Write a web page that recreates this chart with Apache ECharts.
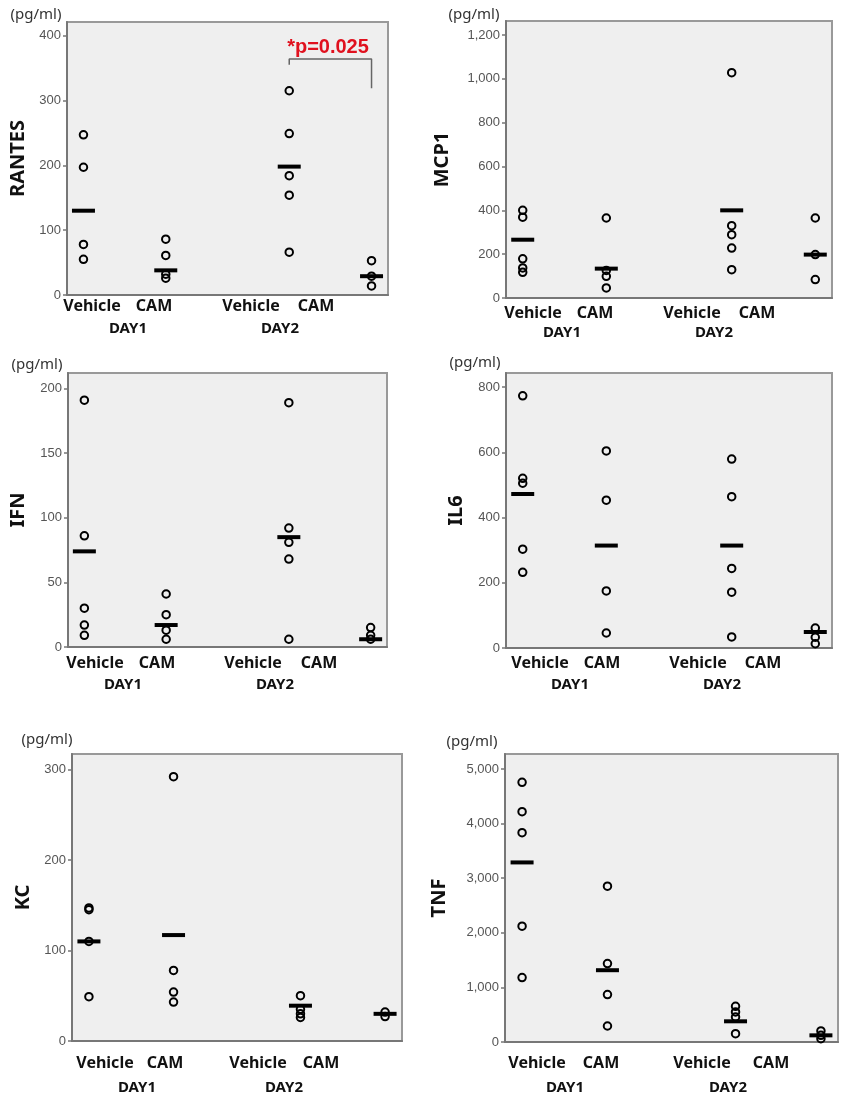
<!DOCTYPE html>
<html>
<head>
<meta charset="utf-8">
<script src="https://cdn.jsdelivr.net/npm/echarts@6/dist/echarts.min.js"></script>
<style>
html, body { margin: 0; padding: 0; background: #fff; }
#main { width: 850px; height: 1098px; }
</style>
</head>
<body>
<div id="main"></div>
<script>
var myChart = echarts.init(document.getElementById('main'));

// x position of each group: DAY1 Vehicle, DAY1 CAM, DAY2 Vehicle, DAY2 CAM
var groupX = [1, 2, 3.5, 4.5];
var groupLabels = ['Vehicle', 'CAM', 'Vehicle', 'CAM'];
var dayLabels = ['DAY1', 'DAY2'];
var unitLabel = '(pg/ml)';
var pValueText = '*p=0.025';

// values, one array per group
var rantesPts = [[247, 197, 78, 55], [86, 61, 32, 26], [315, 249, 184, 154, 66], [53, 29, 14]];
var rantesMed = [130, 38, 198, 29];
var rantesTicks = [0, 100, 200, 300, 400];

var mcp1Pts = [[400, 369, 179, 137, 117], [365, 126, 99, 46], [1028, 330, 289, 228, 129], [365, 198, 84]];
var mcp1Med = [266, 134, 400, 198];
var mcp1Ticks = [0, 200, 400, 600, 800, 1000, 1200];

var ifnPts = [[191, 86, 30, 17, 9], [41, 25, 13, 6], [189, 92, 81, 68, 6], [15, 9, 6]];
var ifnMed = [74, 17, 85, 6];
var ifnTicks = [0, 50, 100, 150, 200];

var il6Pts = [[773, 520, 505, 303, 232], [604, 453, 175, 46], [579, 464, 244, 171, 34], [61, 33, 13]];
var il6Med = [472, 314, 314, 49];
var il6Ticks = [0, 200, 400, 600, 800];

var kcPts = [[147, 145, 110, 49], [292, 78, 54, 43], [50, 35, 30, 26], [32, 27]];
var kcMed = [110, 117, 39, 30];
var kcTicks = [0, 100, 200, 300];

var tnfPts = [[4756, 4218, 3833, 2121, 1180], [2855, 1436, 868, 293], [654, 550, 458, 153], [202, 122, 61]];
var tnfMed = [3289, 1315, 379, 122];
var tnfTicks = [0, 1000, 2000, 3000, 4000, 5000];

// significance bracket between DAY2 groups in RANTES
var bracketX = [3.5, 3.5, 4.5, 4.5];
var bracketY = [355, 364, 364, 319];

// layout of each panel
var panels = [
    {name: 'RANTES', pts: rantesPts, med: rantesMed, ticks: rantesTicks, max: 421,
     grid: {left: 67, top: 22, width: 321, height: 273}, gap: 39,
     lab: [92, 154, 251, 316, 128, 280, 306, 329], unit: [36, 15]},
    {name: 'MCP1', pts: mcp1Pts, med: mcp1Med, ticks: mcp1Ticks, max: 1264,
     grid: {left: 506, top: 21, width: 326, height: 277}, gap: 54,
     lab: [533, 595, 692, 757, 562, 714, 313, 333], unit: [474, 15]},
    {name: 'IFN', pts: ifnPts, med: ifnMed, ticks: ifnTicks, max: 212,
     grid: {left: 68, top: 373, width: 319, height: 274}, gap: 40,
     lab: [95, 157, 253, 319, 123, 275, 663, 685], unit: [37, 365]},
    {name: 'IL6', pts: il6Pts, med: il6Med, ticks: il6Ticks, max: 843,
     grid: {left: 506, top: 373, width: 326, height: 275}, gap: 40,
     lab: [540, 602, 698, 763, 570, 722, 663, 685], unit: [475, 363]},
    {name: 'KC', pts: kcPts, med: kcMed, ticks: kcTicks, max: 317,
     grid: {left: 72, top: 754, width: 330, height: 287}, gap: 39,
     lab: [105, 165, 258, 321, 137, 284, 1063, 1088], unit: [47, 740]},
    {name: 'TNF', pts: tnfPts, med: tnfMed, ticks: tnfTicks, max: 5275,
     grid: {left: 505, top: 754, width: 333, height: 288}, gap: 56,
     lab: [537, 601, 702, 771, 565, 728, 1063, 1088], unit: [472, 742]}
];

var grids = [], xAxes = [], yAxes = [], series = [], graphics = [];
var boldFont = '"Noto Sans", "Liberation Sans", sans-serif';

panels.forEach(function (p, i) {
    grids.push({
        left: p.grid.left, top: p.grid.top, width: p.grid.width, height: p.grid.height,
        show: true, backgroundColor: '#efefef', borderColor: '#999', borderWidth: 2
    });
    xAxes.push({
        gridIndex: i, type: 'value', min: 0.8, max: 4.7,
        axisLine: {show: true, onZero: false, lineStyle: {color: '#777', width: 2}},
        axisTick: {show: false}, axisLabel: {show: false}, splitLine: {show: false}
    });
    yAxes.push({
        gridIndex: i, type: 'value', min: 0, max: p.max,
        name: p.name, nameLocation: 'middle', nameGap: p.gap, nameRotate: 90,
        nameTextStyle: {fontFamily: boldFont, fontWeight: 'bold', fontSize: 20, color: '#111'},
        axisLine: {show: true, lineStyle: {color: '#777', width: 2}},
        axisTick: {show: true, length: 4, customValues: p.ticks, lineStyle: {color: '#777', width: 1.5}},
        axisLabel: {
            customValues: p.ticks, margin: 6, color: '#555', fontSize: 13,
            fontFamily: '"Liberation Sans", Arial, sans-serif',
            formatter: function (v) { return v.toLocaleString('en-US'); }
        },
        splitLine: {show: false}
    });

    var pointData = [];
    p.pts.forEach(function (vals, g) {
        vals.forEach(function (v) { pointData.push([groupX[g], v]); });
    });
    series.push({
        type: 'scatter', xAxisIndex: i, yAxisIndex: i, data: pointData,
        symbol: 'circle', symbolSize: 7.5, z: 2,
        itemStyle: {color: 'rgba(0,0,0,0)', borderColor: '#000', borderWidth: 2, opacity: 1}
    });
    series.push({
        type: 'scatter', xAxisIndex: i, yAxisIndex: i,
        data: p.med.map(function (m, g) { return [groupX[g], m]; }),
        symbol: 'rect', symbolSize: [23, 4], z: 3,
        itemStyle: {color: '#000', opacity: 1}
    });

    // category texts under each panel
    var L = p.lab;
    groupLabels.forEach(function (t, g) {
        graphics.push({type: 'text', x: L[g], y: L[6], style: {
            text: t, x: 0, y: 0, align: 'center', verticalAlign: 'middle',
            font: 'bold 16px ' + boldFont, fill: '#111'}});
    });
    dayLabels.forEach(function (t, d) {
        graphics.push({type: 'text', x: L[4 + d], y: L[7], style: {
            text: t, x: 0, y: 0, align: 'center', verticalAlign: 'middle',
            font: 'bold 15px ' + boldFont, fill: '#111'}});
    });
    graphics.push({type: 'text', x: p.unit[0], y: p.unit[1], style: {
        text: unitLabel, x: 0, y: 0, align: 'center', verticalAlign: 'middle',
        font: '15px ' + boldFont, fill: '#333'}});
});

// bracket for the significance mark
series.push({
    type: 'line', xAxisIndex: 0, yAxisIndex: 0, symbol: 'none', z: 4,
    data: bracketX.map(function (x, k) { return [x, bracketY[k]]; }),
    lineStyle: {color: '#666', width: 1.5}
});
graphics.push({type: 'text', x: 328, y: 47, style: {
    text: pValueText, x: 0, y: 0, align: 'center', verticalAlign: 'middle',
    font: 'bold 20px "Liberation Sans", Arial, sans-serif', fill: '#e0111e'}});

var option = {
    animation: false,
    backgroundColor: '#fff',
    grid: grids,
    xAxis: xAxes,
    yAxis: yAxes,
    series: series,
    graphic: graphics
};

myChart.setOption(option);
</script>
</body>
</html>
